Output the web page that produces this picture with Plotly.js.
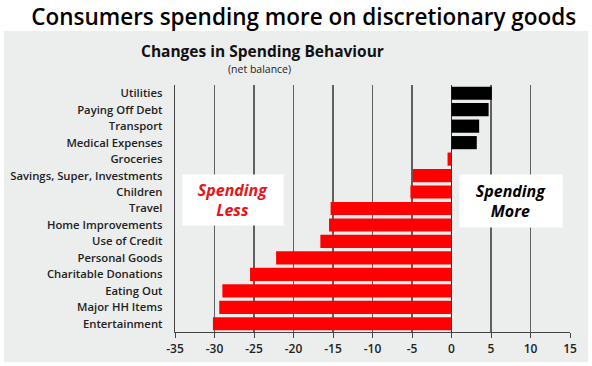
<!DOCTYPE html>
<html>
<head>
<meta charset="utf-8">
<script src="https://cdn.plot.ly/plotly-3.0.1.min.js"></script>
<style>html,body{margin:0;padding:0;background:#fff;}#chart{width:592px;height:366px;}</style>
</head>
<body>
<div id="chart"></div>
<script>
const categories = ["Utilities","Paying Off Debt","Transport","Medical Expenses","Groceries","Savings, Super, Investments","Children","Travel","Home Improvements","Use of Credit","Personal Goods","Charitable Donations","Eating Out","Major HH Items","Entertainment"];
const netBalance = [5.1, 4.7, 3.5, 3.2, -0.5, -4.9, -5.2, -15.3, -15.5, -16.6, -22.2, -25.5, -29.0, -29.4, -30.2];
const xTicks = [-35, -30, -25, -20, -15, -10, -5, 0, 5, 10, 15];

const FONT = "Open Sans, Noto Sans, sans-serif";
const colors = netBalance.map(v => v >= 0 ? "#000000" : "#ff0000");

const trace = {
  type: "bar",
  orientation: "h",
  y: categories,
  x: netBalance,
  marker: {color: colors, line: {width: 0}},
  hoverinfo: "x+y"
};

const layout = {
  width: 592, height: 366,
  margin: {l: 175, r: 22, t: 85, b: 34},
  paper_bgcolor: "#ffffff",
  plot_bgcolor: "#eceeee",
  showlegend: false,
  bargap: 0.2,
  font: {family: FONT, color: "#1a1a1a"},
  title: {
    text: "Consumers spending more on discretionary goods",
    font: {family: FONT, size: 22.5, weight: 600, color: "#000"},
    x: 0.513, xanchor: "center", y: 0.954, yanchor: "middle"
  },
  xaxis: {
    range: [-35, 15],
    tickvals: xTicks,
    ticktext: xTicks.map(String),
    showgrid: true, gridcolor: "#606060", gridwidth: 1.1,
    zeroline: true, zerolinecolor: "#333333", zerolinewidth: 1.5,
    showline: true, linecolor: "#444444", linewidth: 1.2,
    ticks: "outside", ticklen: 5, tickcolor: "#444444",
    tickfont: {family: FONT, size: 12, weight: 600, color: "#222"},
    fixedrange: true
  },
  yaxis: {
    type: "category",
    autorange: "reversed",
    showgrid: false,
    showline: true, linecolor: "#444444", linewidth: 1.2,
    ticks: "", ticklabelstandoff: 9,
    tickfont: {family: FONT, size: 11.3, weight: 600, color: "#222"},
    fixedrange: true
  },
  shapes: [
    {type: "rect", xref: "paper", yref: "paper", layer: "below",
     x0: -0.433, x1: 1.046, y0: -0.122, y1: 1.219,
     fillcolor: "#eceeee", line: {width: 0}}
  ],
  annotations: [
    {xref: "paper", yref: "paper", x: 0.222, y: 1.139, xanchor: "center", yanchor: "middle",
     text: "<b>Changes in Spending Behaviour</b>", showarrow: false,
     font: {family: FONT, size: 15.5, color: "#111"}},
    {xref: "paper", yref: "paper", x: 0.215, y: 1.064, xanchor: "center", yanchor: "middle",
     text: "(net balance)", showarrow: false,
     font: {family: FONT, size: 10.5, color: "#222"}},
    {xref: "x", yref: "paper", x: -27.65, y: 0.535, xanchor: "center", yanchor: "middle",
     text: "<b><i>Spending</i></b><br><b><i>Less</i></b>", showarrow: false,
     width: 96, height: 46, bgcolor: "#ffffff", borderpad: 2,
     font: {family: FONT, size: 16, color: "#e8141b"}},
    {xref: "x", yref: "paper", x: 7.5, y: 0.53, xanchor: "center", yanchor: "middle",
     text: "<b><i>Spending</i></b><br><b><i>More</i></b>", showarrow: false,
     width: 98, height: 48, bgcolor: "#ffffff", borderpad: 2,
     font: {family: FONT, size: 16, color: "#000"}}
  ]
};

Plotly.newPlot("chart", [trace], layout, {displayModeBar: false, staticPlot: true});
</script>
</body>
</html>
